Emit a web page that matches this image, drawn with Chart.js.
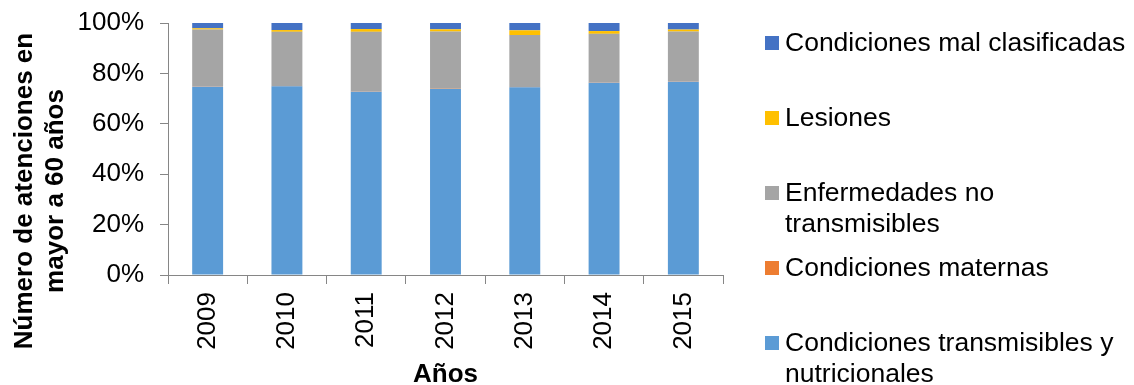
<!DOCTYPE html>
<html lang="es">
<head>
  <meta charset="UTF-8">
  <title>Atenciones en mayor a 60 años</title>
  <script src="https://cdn.jsdelivr.net/npm/chart.js"></script>
  <style>
    body {
      margin: 0;
      background: #fff;
      font-family: 'Liberation Sans', Arial, sans-serif;
    }
    #wrap {
      position: relative;
      width: 1134px;
      height: 385px;
      overflow: hidden;
    }
    #legend {
      position: absolute;
      left: 765px;
      top: 0;
    }
    .item {
      position: absolute;
      left: 0;
      width: 370px;
      font-size: 26.5px;
      line-height: 31px;
      color: #000;
    }
    .box {
      position: absolute;
      left: 0;
      top: 9px;
      width: 14px;
      height: 14px;
    }
    .txt {
      margin-left: 20px;
      width: 350px;
    }
  </style>
</head>
<body>
<div id="wrap">
  <canvas id="chart" width="1134" height="385"></canvas>
  <div id="legend"></div>
</div>

<script>
  // datos (porcentajes)
  const years = ['2009', '2010', '2011', '2012', '2013', '2014', '2015'];
  const transmisibles = [74.7, 74.9, 72.7, 73.8, 74.5, 76.3, 76.7];
  const maternas = [0.1, 0.1, 0.1, 0.1, 0.1, 0.1, 0.1];
  const noTransmisibles = [22.6, 21.5, 23.7, 22.7, 20.6, 19.3, 19.8];
  const lesiones = [0.5, 0.7, 1.1, 0.9, 1.9, 1.1, 0.8];
  const malClasificadas = [2.1, 2.8, 2.4, 2.5, 2.9, 3.2, 2.6];
  const yTicks = [0, 20, 40, 60, 80, 100];

  const series = [
    { label: 'Condiciones transmisibles y nutricionales', data: transmisibles, color: '#5B9BD5' },
    { label: 'Condiciones maternas', data: maternas, color: '#ED7D31' },
    { label: 'Enfermedades no transmisibles', data: noTransmisibles, color: '#A5A5A5' },
    { label: 'Lesiones', data: lesiones, color: '#FFC000' },
    { label: 'Condiciones mal clasificadas', data: malClasificadas, color: '#4472C4' }
  ];

  const FONT = "'Liberation Sans', Arial, sans-serif";
  const axisColor = '#868686';

  // título del eje Y, centrado como en el original
  const yTitle = {
    id: 'yTitle',
    afterDraw(chart) {
      const ctx = chart.ctx;
      ctx.save();
      ctx.translate(0, 191);
      ctx.rotate(-Math.PI / 2);
      ctx.font = 'bold 26px ' + FONT;
      ctx.fillStyle = '#000';
      ctx.textAlign = 'center';
      ctx.textBaseline = 'middle';
      ctx.fillText('Número de atenciones en', 0, 25);
      ctx.fillText('mayor a 60 años', 0, 56);
      ctx.restore();
    }
  };

  const ctx = document.getElementById('chart').getContext('2d');
  new Chart(ctx, {
    type: 'bar',
    data: {
      labels: years,
      datasets: series.map(s => ({
        label: s.label,
        data: s.data,
        backgroundColor: s.color,
        borderWidth: 0,
        barPercentage: 0.39,
        categoryPercentage: 1
      }))
    },
    options: {
      responsive: false,
      animation: false,
      layout: { padding: { top: 23, right: 411, left: 0, bottom: 0 } },
      plugins: {
        legend: { display: false },
        tooltip: { enabled: false }
      },
      scales: {
        x: {
          stacked: true,
          grid: { drawOnChartArea: false, tickLength: 9, color: axisColor },
          border: { color: axisColor },
          ticks: {
            minRotation: 90,
            maxRotation: 90,
            padding: 8,
            color: '#000',
            font: { family: FONT, size: 26 }
          },
          title: {
            display: true,
            text: 'Años',
            color: '#000',
            font: { family: FONT, size: 26, weight: 'bold' },
            padding: { top: 0, bottom: -5 }
          },
          afterFit(scale) {
            scale.height = 110;
            scale.paddingLeft = 0;
            scale.paddingRight = 0;
          }
        },
        y: {
          stacked: true,
          min: 0,
          max: 100,
          afterBuildTicks(scale) { scale.ticks = yTicks.map(v => ({ value: v })); },
          grid: { drawOnChartArea: false, tickLength: 8, color: axisColor },
          border: { color: axisColor },
          ticks: {
            padding: 16,
            color: '#000',
            font: { family: FONT, size: 26 },
            callback: v => v + '%'
          },
          afterFit(scale) {
            scale.width = 168;
            scale.paddingTop = 0;
            scale.paddingBottom = 0;
          }
        }
      }
    },
    plugins: [yTitle]
  });

  // leyenda en orden inverso, como en el original
  const legendTops = [27, 102, 177, 252, 327];
  const legend = document.getElementById('legend');
  series.slice().reverse().forEach((s, i) => {
    const item = document.createElement('div');
    item.className = 'item';
    item.style.top = legendTops[i] + 'px';
    item.innerHTML = '<span class="box" style="background:' + s.color + '"></span>' +
      '<div class="txt">' + s.label + '</div>';
    legend.appendChild(item);
  });
</script>
</body>
</html>
